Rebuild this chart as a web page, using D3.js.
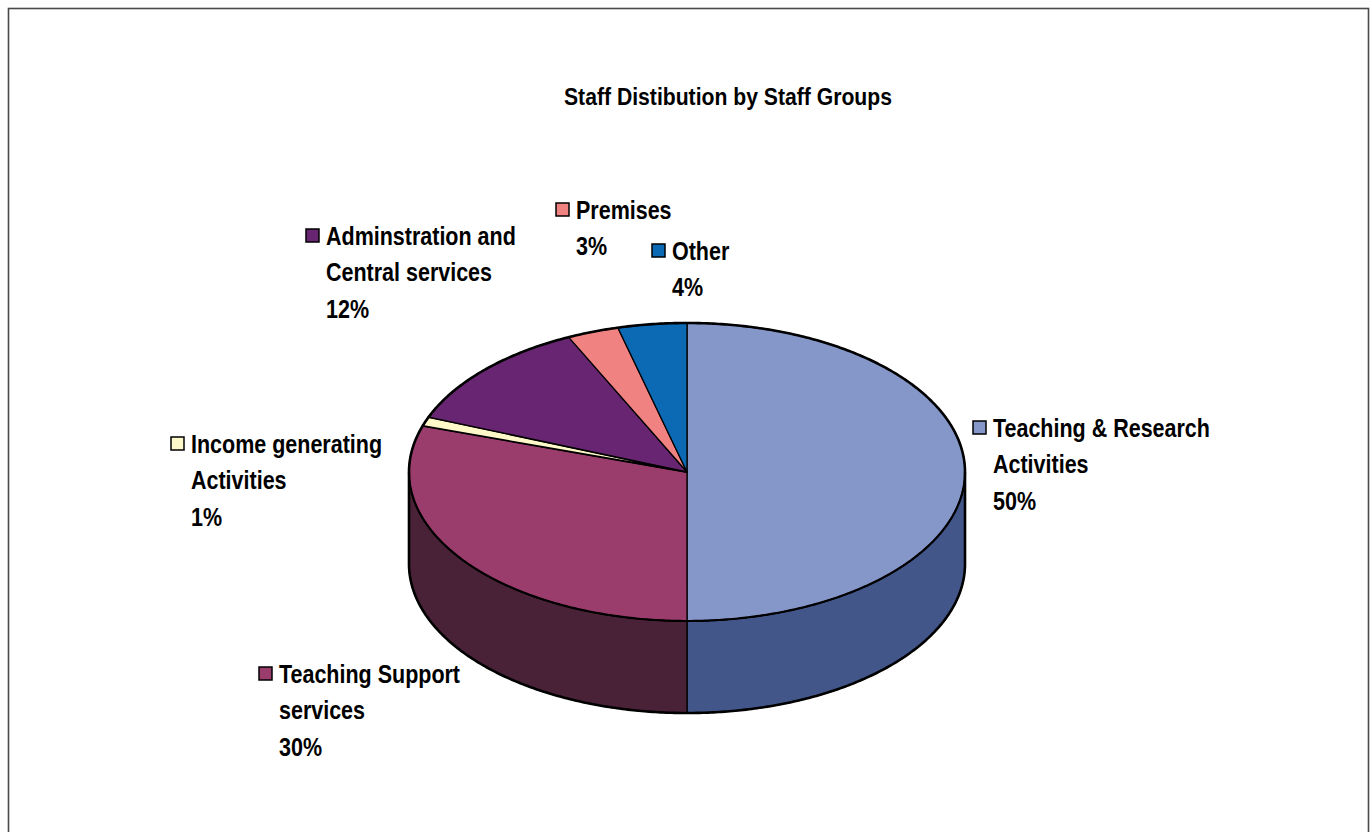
<!DOCTYPE html>
<html>
<head>
<meta charset="utf-8">
<script src="https://cdn.jsdelivr.net/npm/d3@7"></script>
<style>
  html, body { margin: 0; padding: 0; background: #fff; }
  svg { display: block; }
  .lbl { font-family: "Liberation Sans Narrow", "Arial Narrow", "Liberation Sans", Arial, sans-serif; font-weight: bold; font-size: 26px; fill: #000; }
  .title { font-family: "Liberation Sans Narrow", "Arial Narrow", "Liberation Sans", Arial, sans-serif; font-weight: bold; font-size: 23px; fill: #000; }
</style>
</head>
<body>
<svg id="chart" width="1372" height="832"></svg>
<script>
// Staff groups, in pie order (clockwise from 12 o'clock)
const categories = [
  "Teaching & Research Activities",
  "Teaching Support services",
  "Income generating Activities",
  "Adminstration and Central services",
  "Premises",
  "Other"
];
const shares = [50, 30, 1, 12, 3, 4];   // percent of staff
// Label text broken into lines as shown beside each slice
const labelLines = [
  ["Teaching & Research", "Activities"],
  ["Teaching Support", "services"],
  ["Income generating", "Activities"],
  ["Adminstration and", "Central services"],
  ["Premises"],
  ["Other"]
];
const topColors  = ["#8596C8", "#9A3C6C", "#FFF8C8", "#682672", "#F08282", "#0C6AB4"];
const sideColors = ["#42568A", "#4A2238", "#B0AC88", "#3A1240", "#A05454", "#06407A"];
// Where each data label's text block starts (x, first baseline)
const labelAnchors = [[993, 437], [279, 683], [191, 453], [326, 245], [576, 219], [672, 260]];

const svg = d3.select("#chart");

// Chart frame
svg.append("rect")
  .attr("x", 8.5).attr("y", 8.5).attr("width", 1360).attr("height", 840)
  .attr("fill", "#fff").attr("stroke", "#4a4a4a").attr("stroke-width", 1.6);

svg.append("text").attr("class", "title")
  .attr("x", 564).attr("y", 105)
  .attr("textLength", 328).attr("lengthAdjust", "spacingAndGlyphs")
  .text("Staff Distibution by Staff Groups");

// 3D pie geometry
const cx = 687, cy = 472, rx = 278, ry = 149, depth = 92;

const pie = d3.pie().sort(null).value(d => d.v).startAngle(0).endAngle(2 * Math.PI);
const data = categories.map((c, i) => ({ c, v: shares[i], i }));
const arcs = pie(data);

const pt = (a, dy = 0) => [cx + rx * Math.sin(a), cy - ry * Math.cos(a) + dy];
function arcPts(a0, a1, dy = 0) {
  const n = Math.max(2, Math.ceil(Math.abs(a1 - a0) / 0.01));
  return d3.range(n + 1).map(k => pt(a0 + (a1 - a0) * k / n, dy));
}
const line = d3.line().curve(d3.curveLinear);

// Side walls: only the front half (angles between 90° and 270°) is visible
const gSide = svg.append("g");
arcs.forEach(d => {
  const s = Math.max(d.startAngle, Math.PI / 2);
  const e = Math.min(d.endAngle, 3 * Math.PI / 2);
  if (e <= s) return;
  const pts = arcPts(s, e).concat(arcPts(e, s, depth));
  gSide.append("path")
    .attr("d", line(pts) + "Z")
    .attr("fill", sideColors[d.data.i])
    .attr("stroke", "#000").attr("stroke-width", 1.3).attr("stroke-linejoin", "round");
});

// Top faces
const gTop = svg.append("g");
arcs.forEach(d => {
  const pts = [[cx, cy]].concat(arcPts(d.startAngle, d.endAngle));
  gTop.append("path")
    .attr("d", line(pts) + "Z")
    .attr("fill", topColors[d.data.i])
    .attr("stroke", "#000").attr("stroke-width", d.data.v < 2 ? 1.8 : 1.3)
    .attr("stroke-linejoin", "round");
});

// Heavier silhouette: back rim of the top face, then the front bottom rim
const rimBack = arcPts(-Math.PI / 2, Math.PI / 2);
const rimFrontBottom = arcPts(Math.PI / 2, 3 * Math.PI / 2, depth);
svg.append("path")
  .attr("d", line(rimBack.concat(rimFrontBottom)) + "Z")
  .attr("fill", "none").attr("stroke", "#000").attr("stroke-width", 2.6)
  .attr("stroke-linejoin", "round");
// Front rim of the top face
svg.append("path")
  .attr("d", line(arcPts(Math.PI / 2, 3 * Math.PI / 2)))
  .attr("fill", "none").attr("stroke", "#000").attr("stroke-width", 2.2);

// Data labels with legend keys
const fmt = d3.format(".0f");
const gLab = svg.append("g");
arcs.forEach(d => {
  const i = d.data.i;
  const [lx, ly] = labelAnchors[i];
  const g = gLab.append("g").attr("transform", `translate(${lx},${ly})`);
  g.append("rect")
    .attr("x", -20).attr("y", -16).attr("width", 13).attr("height", 13)
    .attr("fill", topColors[i]).attr("stroke", "#000").attr("stroke-width", 1.5);
  const t = g.append("text").attr("class", "lbl");
  const lines = labelLines[i].concat([fmt(d.data.v) + "%"]);
  lines.forEach((s, k) => {
    t.append("tspan").attr("x", 0).attr("y", k * 36.5).text(s);
  });
});

// If no condensed face is available, compress the labels horizontally
const probe = gLab.select("text").node();
const firstW = probe.querySelector("tspan").getComputedTextLength();
if (firstW > 235) {
  const k = 217 / firstW;
  gLab.selectAll("text").attr("transform", `scale(${k},1)`);
}
</script>
</body>
</html>
